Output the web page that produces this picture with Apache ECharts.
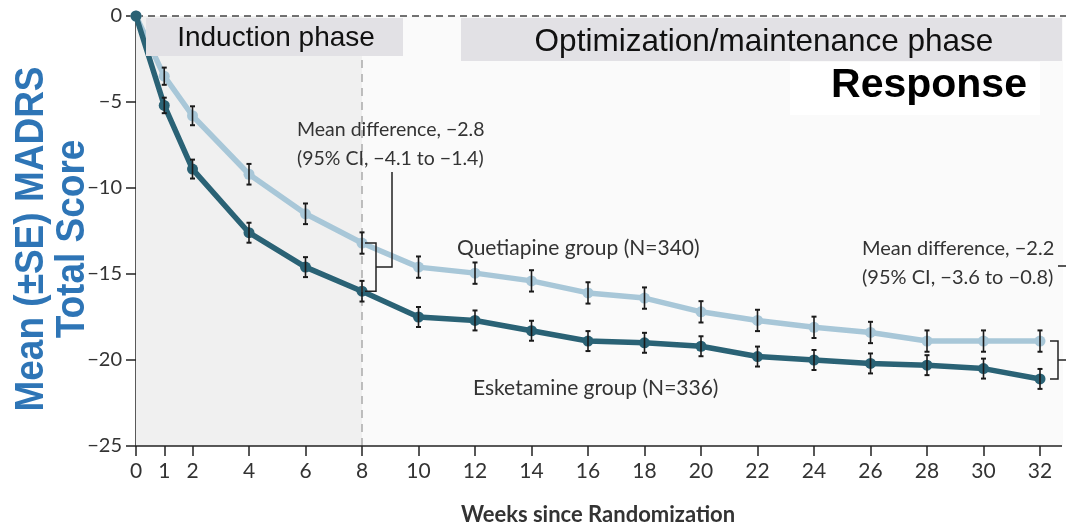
<!DOCTYPE html>
<html><head><meta charset="utf-8">
<script src="https://cdn.jsdelivr.net/npm/echarts@6/dist/echarts.min.js"></script>
<style>html,body{margin:0;padding:0;background:#fff}#c{width:1066px;height:525px}</style>
</head><body><div id="c"></div>
<script>
const weeks = [0,1,2,4,6,8,10,12,14,16,18,20,22,24,26,28,30,32];
const quetiapine = [0,-3.5,-5.8,-9.2,-11.5,-13.2,-14.6,-14.95,-15.4,-16.1,-16.4,-17.2,-17.7,-18.1,-18.4,-18.9,-18.9,-18.9];
const quetiapineSE = [0,0.5,0.55,0.6,0.6,0.62,0.62,0.62,0.62,0.62,0.62,0.62,0.62,0.62,0.62,0.62,0.62,0.62];
const esketamine = [0,-5.2,-8.9,-12.6,-14.6,-16.0,-17.5,-17.7,-18.3,-18.9,-19.0,-19.2,-19.8,-20.0,-20.2,-20.3,-20.5,-21.1];
const esketamineSE = [0,0.45,0.55,0.58,0.58,0.6,0.58,0.58,0.58,0.58,0.58,0.58,0.58,0.58,0.58,0.58,0.58,0.58];
const xTicks = [0,1,2,4,6,8,10,12,14,16,18,20,22,24,26,28,30,32];
const yTicks = [0,-5,-10,-15,-20,-25];

const chart = echarts.init(document.getElementById('c'));
const FONT = 'Lato';
function pairs(ys){ return weeks.map((w,i)=>[w,ys[i]]); }
function errs(ys,se){ return weeks.map((w,i)=>[w,ys[i]-se[i],ys[i]+se[i]]).filter((d,i)=>se[i]>0); }
function errRender(params, api){
  const p1 = api.coord([api.value(0), api.value(1)]);
  const p2 = api.coord([api.value(0), api.value(2)]);
  const c = 2.5;
  const st = {stroke:'#1a1a1a', lineWidth:1.6};
  return {type:'group', children:[
    {type:'line', shape:{x1:p1[0],y1:p1[1],x2:p2[0],y2:p2[1]}, style:st},
    {type:'line', shape:{x1:p1[0]-c,y1:p1[1],x2:p1[0]+c,y2:p1[1]}, style:{stroke:'#1a1a1a', lineWidth:2}},
    {type:'line', shape:{x1:p2[0]-c,y1:p2[1],x2:p2[0]+c,y2:p2[1]}, style:{stroke:'#1a1a1a', lineWidth:2}}
  ]};
}
const dark = '#2a6275', light = '#a8c7d8';
chart.setOption({
  animation:false,
  grid:{left:136, right:26, top:16, bottom:79, show:true, backgroundColor:'#fafafa', borderWidth:0},
  xAxis:{type:'value', min:0, max:32,
    axisLine:{show:false, onZero:false},
    axisTick:{show:true, customValues:xTicks, length:10, lineStyle:{color:'#222', width:1.5}},
    axisLabel:{customValues:xTicks, color:'#333', fontFamily:FONT, fontSize:21, margin:15},
    splitLine:{show:false}},
  yAxis:{type:'value', min:-25, max:0, interval:5,
    axisLine:{show:true, onZero:false, lineStyle:{color:'#222', width:1.5}},
    axisTick:{show:true, length:10, lineStyle:{color:'#222', width:1.5}},
    axisLabel:{customValues:yTicks, color:'#333', fontFamily:FONT, fontSize:20, margin:14, formatter:v=>String(v).replace('-','\u2212')},
    splitLine:{show:false}},
  series:[
    {type:'line', data:pairs(quetiapine), symbol:'circle', symbolSize:11, z:3,
     lineStyle:{color:light, width:5.5}, itemStyle:{color:light},
     markArea:{silent:true, label:{show:false}, itemStyle:{color:'#f0f0f0'}, data:[[{xAxis:0},{xAxis:8}]]},
     markLine:{silent:true, symbol:'none', label:{show:false},
       data:[{xAxis:8, lineStyle:{color:'#aaa', type:[8,6], width:1.5}}]}},
    {type:'line', data:pairs(esketamine), symbol:'circle', symbolSize:11, z:4,
     lineStyle:{color:dark, width:5.5}, itemStyle:{color:dark}},
    {type:'custom', data:errs(quetiapine,quetiapineSE), renderItem:errRender, z:6},
    {type:'custom', data:errs(esketamine,esketamineSE), renderItem:errRender, z:6}
  ]
});

function px(x,y){ return chart.convertToPixel({gridIndex:0},[x,y]); }
const o = px(0,0), tr = px(32,0), bl = px(0,-25), br = px(32,-25);
const b8a = px(8,quetiapine[5]), b8b = px(8,esketamine[5]);
const b32a = px(32,quetiapine[17]), b32b = px(32,esketamine[17]);
const mid8 = (b8a[1]+b8b[1])/2, mid32 = (b32a[1]+b32b[1])/2;
const L = {stroke:'#222', lineWidth:1.5, fill:null};
chart.setOption({graphic:[
  {type:'rect', shape:{x:tr[0],y:tr[1],width:1063-tr[0],height:br[1]-tr[1]}, style:{fill:'#fafafa'}, z:1},
  {type:'line', shape:{x1:o[0],y1:o[1],x2:1066,y2:o[1]}, style:{stroke:'#444', lineWidth:1.5, lineDash:[7,5]}, z:2},
  {type:'line', shape:{x1:bl[0],y1:bl[1],x2:1062,y2:bl[1]}, style:{stroke:'#222', lineWidth:1.5}, z:5},
  {type:'rect', shape:{x:146,y:18,width:257,height:38}, style:{fill:'#e2e1e5'}, z:10},
  {type:'text', x:276, y:38, style:{text:'Induction phase', font:'28px "Liberation Sans"', fill:'#111', align:'center', verticalAlign:'middle'}, z:11},
  {type:'rect', shape:{x:461,y:18,width:601,height:43}, style:{fill:'#e2e1e5'}, z:10},
  {type:'text', x:764, y:42, style:{text:'Optimization/maintenance phase', font:'31.5px "Liberation Sans"', fill:'#111', align:'center', verticalAlign:'middle'}, z:11},
  {type:'rect', shape:{x:790,y:62,width:250,height:53}, style:{fill:'#ffffff'}, z:10},
  {type:'text', x:929, y:86, style:{text:'Response', font:'bold 41px "Liberation Sans"', fill:'#000', align:'center', verticalAlign:'middle'}, z:11},
  {type:'text', x:32, y:239, rotation:Math.PI/2, scaleY:1.1, style:{text:'Mean (\u00b1SE) MADRS', font:'bold 37px "Liberation Sans"', fill:'#2e75b6', align:'center', verticalAlign:'middle'}, z:11},
  {type:'text', x:73, y:239, rotation:Math.PI/2, scaleY:1.1, style:{text:'Total Score', font:'bold 37px "Liberation Sans"', fill:'#2e75b6', align:'center', verticalAlign:'middle'}, z:11},
  {type:'text', x:598, y:515, style:{text:'Weeks since Randomization', font:'bold 22px '+FONT, fill:'#333', align:'center', verticalAlign:'middle'}, z:11},
  {type:'text', x:297, y:130, style:{text:'Mean difference, \u22122.8', font:'19.5px '+FONT, fill:'#333', verticalAlign:'middle'}, z:11},
  {type:'text', x:297, y:159, style:{text:'(95% CI, \u22124.1 to \u22121.4)', font:'19.5px '+FONT, fill:'#333', verticalAlign:'middle'}, z:11},
  {type:'text', x:457, y:248, style:{text:'Quetiapine group (N=340)', font:'21px '+FONT, fill:'#333', verticalAlign:'middle'}, z:11},
  {type:'text', x:473, y:388, style:{text:'Esketamine group (N=336)', font:'21px '+FONT, fill:'#333', verticalAlign:'middle'}, z:11},
  {type:'text', x:862, y:249, style:{text:'Mean difference, \u22122.2', font:'20px '+FONT, fill:'#333', verticalAlign:'middle'}, z:11},
  {type:'text', x:862, y:278, style:{text:'(95% CI, \u22123.6 to \u22120.8)', font:'20px '+FONT, fill:'#333', verticalAlign:'middle'}, z:11},
  {type:'polyline', shape:{points:[[b8a[0]+3,b8a[1]],[b8a[0]+14,b8a[1]],[b8a[0]+14,b8b[1]],[b8a[0]+3,b8b[1]]]}, style:L, z:11},
  {type:'polyline', shape:{points:[[b8a[0]+14,mid8],[b8a[0]+30,mid8],[b8a[0]+30,172]]}, style:L, z:11},
  {type:'polyline', shape:{points:[[b32a[0]+10,b32a[1]],[b32a[0]+18,b32a[1]],[b32a[0]+18,b32b[1]],[b32a[0]+10,b32b[1]]]}, style:L, z:11},
  {type:'line', shape:{x1:b32a[0]+18,y1:mid32,x2:1066,y2:mid32}, style:L, z:11},
  {type:'line', shape:{x1:1058,y1:266,x2:1066,y2:266}, style:L, z:11}
]});
</script></body></html>
